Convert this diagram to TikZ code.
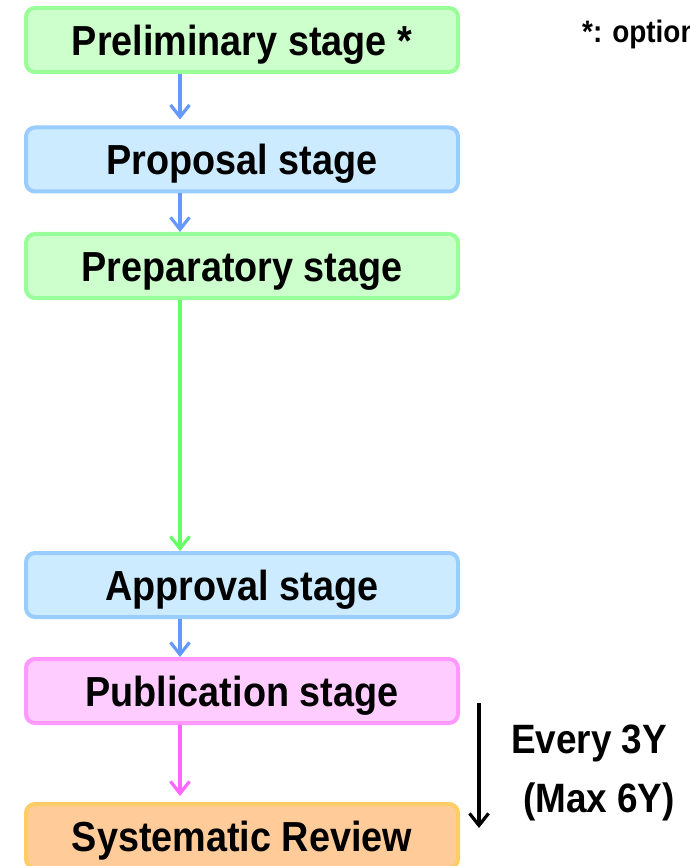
\documentclass[tikz,border=0pt]{standalone}
\usepackage{fontspec}
\setmainfont{Liberation Sans}[FakeStretch=0.9]
\usetikzlibrary{arrows.meta}

\definecolor{grnfill}{HTML}{CCFFCC}
\definecolor{grnline}{HTML}{99FF99}
\definecolor{grnarrow}{HTML}{66FF66}
\definecolor{blufill}{HTML}{CCEBFF}
\definecolor{bluline}{HTML}{99CCFF}
\definecolor{bluarrow}{HTML}{6699FF}
\definecolor{pnkfill}{HTML}{FFCCFF}
\definecolor{pnkline}{HTML}{FF99FF}
\definecolor{pnkarrow}{HTML}{FF66FF}
\definecolor{orgfill}{HTML}{FFCC99}
\definecolor{orgline}{HTML}{FFCC66}

\tikzset{
  stagebox/.style={draw, line width=4pt, rounded corners=9pt,
    minimum width=432pt, minimum height=64pt, inner sep=0pt,
    text height=31pt, text depth=0pt,
    font=\fontsize{42}{46}\selectfont\bfseries},
  greenbox/.style={stagebox, fill=grnfill, draw=grnline},
  bluebox/.style={stagebox, fill=blufill, draw=bluline},
  pinkbox/.style={stagebox, fill=pnkfill, draw=pnkline},
  orangebox/.style={stagebox, fill=orgfill, draw=orgline},
  flow/.style={line width=3.2pt, -{Straight Barb[length=12pt,width=19pt]}},
  note/.style={inner sep=0pt, text height=31pt, text depth=0pt,
    font=\fontsize{41}{44}\selectfont\bfseries},
}

\begin{document}
\begin{tikzpicture}[x=1pt, y=-1pt]
  \useasboundingbox (0,0) rectangle (689,866);
  \clip (0,0) rectangle (689,866);

  % stages
  \node[greenbox]  (prelim)  at (242,40)    {Preliminary stage *};
  \node[bluebox]   (propose) at (242,159.5) {Proposal stage};
  \node[greenbox]  (prep)    at (242,266)   {Preparatory stage};
  \node[bluebox]   (approve) at (242,585)   {Approval stage};
  \node[pinkbox]   (publish) at (242,691)   {Publication stage};
  \node[orangebox] (review)  at (242,836)   {Systematic Review};

  % flow between stages
  \draw[flow, bluarrow, shorten >=6pt] ([xshift=-62pt]prelim.south)  -- ([xshift=-62pt]propose.north);
  \draw[flow, bluarrow]                ([xshift=-62pt]propose.south) -- ([xshift=-62pt]prep.north);
  \draw[flow, grnarrow]                ([xshift=-62pt]prep.south)    -- ([xshift=-62pt]approve.north);
  \draw[flow, bluarrow]                ([xshift=-62pt]approve.south) -- ([xshift=-62pt]publish.north);
  \draw[flow, pnkarrow, shorten >=6pt] ([xshift=-62pt]publish.south) -- ([xshift=-62pt]review.north);

  % review cycle
  \coordinate (cyctop) at (479,703);
  \coordinate (cycend) at (479,828);
  \draw[flow, black] (cyctop) -- (cycend);
  \node[note] (every) at (589,738) {Every 3Y};
  \node[note] (maxy)  at (599,797) {(Max 6Y)};

  % footnote
  \node[anchor=base west, inner sep=0pt,
        font=\fontsize{31}{33}\selectfont\bfseries] (optnote) at (582,43) {*:\hspace{10pt}optional};
\end{tikzpicture}
\end{document}
